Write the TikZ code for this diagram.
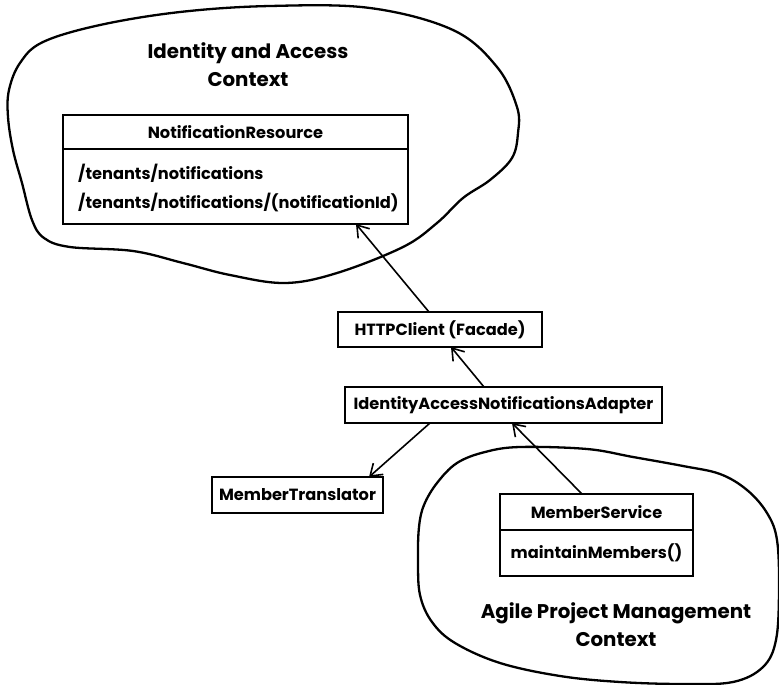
\documentclass[tikz,border=0pt]{standalone}
\usepackage{fontspec}
\setmainfont{Poppins}
\usetikzlibrary{arrows.meta}
\begin{document}
\begin{tikzpicture}[x=1pt,y=-1pt,
  blob/.style={line width=2.3pt, line join=round},
  box/.style={draw, line width=2.3pt, rectangle, inner sep=0pt, outer sep=0pt, font=\fontsize{16.2}{19}\selectfont\bfseries},
  title/.style={font=\fontsize{19.8}{28}\selectfont\bfseries, align=center},
  arr/.style={line width=1.6pt, -{Straight Barb[length=11pt,width=15pt,line width=1.6pt]}},
  txt/.style={font=\fontsize{16.2}{19}\selectfont\bfseries, anchor=west, inner sep=0pt}
]
\useasboundingbox (0,0) rectangle (779,685);
\fill[white] (0,0) rectangle (779,685);
% upper blob
\draw[blob] plot[smooth cycle, tension=0.6] coordinates {
 (270,6) (370,8) (453,30) (497,67) (517,107) (518,133) (512,158) (490,180)
 (463,198) (437,223) (403,247) (337,273) (285,283) (230,275) (183,263) (133,251)
 (70,247) (44,238) (32,220) (22,183) (13,150) (8,117) (9,90) (20,63) (43,42) (100,25) (180,12)};
% lower blob
\draw[blob] plot[smooth cycle, tension=0.6] coordinates {
 (520,447) (587,449) (633,457) (683,466) (720,474) (747,490) (767,513) (777,540)
 (779,590) (776,640) (763,667) (733,682) (683,684) (620,682) (560,676) (500,663)
 (455,643) (432,622) (420,595) (418,560) (419,527) (424,505) (437,483) (457,463) (485,452)};
% titles
\node[title] (t1) at (248,64.5) {Identity and Access\\Context};
\node[title] (t2) at (616,625) {Agile Project Management\\Context};
% NotificationResource
\node[box, minimum width=345pt, minimum height=34pt] (nrhead) at (235.5,132) {NotificationResource};
\node[box, minimum width=345pt, minimum height=75pt, anchor=north] (nrbody) at (nrhead.south) {};
\node[txt] (nr1) at (78,173) {/tenants/notifications};
\node[txt] (nr2) at (78,202) {/tenants/notifications/(notificationId)};
% HTTPClient
\node[box, minimum width=204pt, minimum height=35pt] (http) at (440,329.5) {HTTPClient (Facade)};
% Adapter
\node[box, minimum width=317pt, minimum height=36pt] (adapter) at (503.5,405) {IdentityAccessNotificationsAdapter};
% Translator
\node[box, minimum width=171pt, minimum height=36pt] (trans) at (297.5,495) {MemberTranslator};
% MemberService
\node[box, minimum width=193pt, minimum height=36pt] (mshead) at (596.5,512) {MemberService};
\node[box, minimum width=193pt, minimum height=46pt, anchor=north] (msbody) at (mshead.south) {maintainMembers()};
% arrows
\draw[arr] ([xshift=-11pt]http.north) -- ([xshift=120.5pt]nrbody.south);
\draw[arr] ([xshift=-19.5pt]adapter.north) -- ([xshift=11pt]http.south);
\draw[arr] ([xshift=-73.5pt]adapter.south) -- ([xshift=71.5pt]trans.north);
\draw[arr] ([xshift=-14.5pt]mshead.north) -- ([xshift=8.5pt]adapter.south);
\end{tikzpicture}
\end{document}
